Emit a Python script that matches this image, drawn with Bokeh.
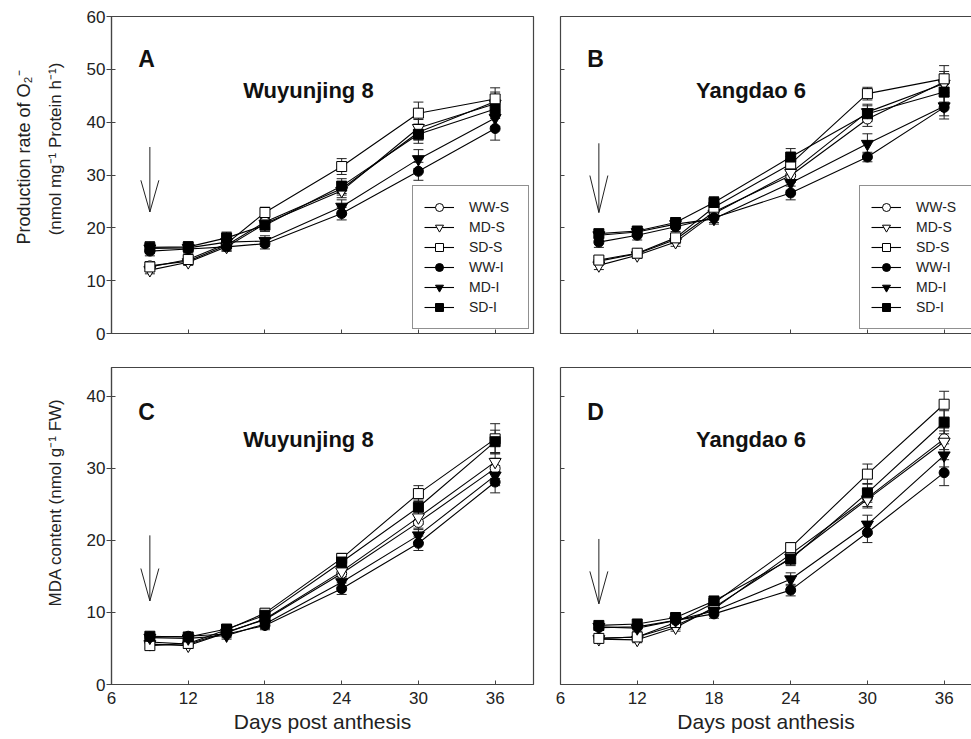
from bokeh.plotting import figure
from bokeh.models import (ColumnDataSource, Range1d, FixedTicker, Whisker, TeeHead,
                          Legend, LegendItem, Label, LinearAxis)
from bokeh.layouts import column, row
from bokeh.embed import file_html
from bokeh.resources import INLINE

FONT = "Liberation Sans"

days = [9, 12, 15, 18, 24, 30, 36]
series_names = ["WW-S", "MD-S", "SD-S", "WW-I", "MD-I", "SD-I"]
x_ticks = [6, 12, 18, 24, 30, 36]
o2_ticks = [0, 10, 20, 30, 40, 50, 60]
mda_ticks = [0, 10, 20, 30, 40]

# Panel A: O2- production, Wuyunjing 8
a_ww_s = [12.8, 13.7, 16.7, 21.1, 27.4, 38.1, 43.9]
a_md_s = [12.0, 13.5, 16.4, 20.8, 27.0, 38.9, 43.5]
a_sd_s = [12.6, 14.0, 17.0, 22.9, 31.6, 41.7, 44.4]
a_ww_i = [15.6, 16.0, 16.4, 17.0, 22.7, 30.7, 38.8]
a_md_i = [16.1, 16.2, 17.3, 17.5, 24.0, 33.0, 40.8]
a_sd_i = [16.3, 16.4, 18.1, 20.5, 27.9, 37.7, 42.5]
a_err_ww_s = [0.8, 0.6, 0.9, 1.0, 1.2, 1.5, 1.8]
a_err_md_s = [0.7, 0.6, 0.8, 1.0, 1.3, 1.6, 1.7]
a_err_sd_s = [0.9, 0.7, 0.9, 1.0, 1.5, 2.1, 2.1]
a_err_ww_i = [0.9, 0.8, 0.8, 1.0, 1.2, 1.7, 2.2]
a_err_md_i = [1.0, 0.9, 1.0, 1.0, 1.3, 1.8, 1.6]
a_err_sd_i = [1.1, 1.0, 1.1, 1.2, 1.4, 1.7, 1.8]

# Panel B: O2- production, Yangdao 6
b_ww_s = [13.7, 15.1, 17.8, 23.0, 29.9, 40.6, 47.6]
b_md_s = [12.9, 14.8, 17.3, 22.7, 30.4, 41.9, 47.3]
b_sd_s = [13.9, 15.2, 18.1, 23.9, 32.1, 45.4, 48.2]
b_ww_i = [17.3, 18.6, 20.2, 21.9, 26.6, 33.4, 42.8]
b_md_i = [18.6, 19.2, 20.7, 21.7, 28.5, 35.9, 43.0]
b_sd_i = [18.9, 19.4, 21.0, 24.8, 33.4, 41.6, 45.7]
b_err_ww_s = [0.7, 0.6, 0.8, 1.0, 1.3, 1.4, 2.0]
b_err_md_s = [0.8, 0.6, 0.8, 1.0, 1.4, 1.5, 1.8]
b_err_sd_s = [0.7, 0.6, 0.8, 1.0, 1.4, 1.2, 2.5]
b_err_ww_i = [1.0, 0.9, 0.9, 0.9, 1.3, 0.9, 2.2]
b_err_md_i = [0.9, 0.8, 0.9, 1.0, 1.4, 1.9, 1.8]
b_err_sd_i = [0.8, 0.8, 0.9, 1.1, 1.6, 1.5, 1.9]

# Panel C: MDA content, Wuyunjing 8
c_ww_s = [5.9, 5.6, 7.3, 9.0, 15.4, 22.5, 30.0]
c_md_s = [5.6, 5.4, 7.2, 9.1, 15.7, 23.2, 30.9]
c_sd_s = [5.4, 5.7, 7.6, 9.9, 17.5, 26.5, 34.1]
c_ww_i = [6.6, 6.7, 7.0, 8.2, 13.3, 19.6, 28.1]
c_md_i = [6.5, 6.4, 6.8, 8.4, 14.2, 20.7, 29.0]
c_sd_i = [6.7, 6.6, 7.7, 9.6, 17.0, 24.6, 33.7]
c_err_ww_s = [0.4, 0.4, 0.5, 0.6, 0.8, 1.0, 1.4]
c_err_md_s = [0.4, 0.4, 0.5, 0.6, 0.8, 1.0, 1.3]
c_err_sd_s = [0.4, 0.4, 0.5, 0.6, 0.7, 1.1, 2.1]
c_err_ww_i = [0.4, 0.4, 0.5, 0.6, 0.8, 1.0, 1.5]
c_err_md_i = [0.4, 0.4, 0.5, 0.6, 0.8, 1.0, 1.4]
c_err_sd_i = [0.4, 0.4, 0.5, 0.6, 0.8, 1.0, 1.6]

# Panel D: MDA content, Yangdao 6
d_ww_s = [6.4, 6.6, 8.2, 10.5, 18.1, 25.9, 34.1]
d_md_s = [6.3, 6.2, 7.9, 10.7, 17.6, 25.7, 33.7]
d_sd_s = [6.4, 6.6, 8.6, 11.3, 19.0, 29.2, 38.9]
d_ww_i = [7.9, 8.0, 8.9, 9.8, 13.1, 21.1, 29.4]
d_md_i = [8.0, 7.8, 8.9, 10.2, 14.6, 22.2, 31.8]
d_sd_i = [8.2, 8.4, 9.3, 11.6, 17.4, 26.6, 36.4]
d_err_ww_s = [0.4, 0.4, 0.5, 0.6, 0.8, 1.2, 1.5]
d_err_md_s = [0.4, 0.4, 0.5, 0.6, 0.8, 1.2, 1.5]
d_err_sd_s = [0.4, 0.4, 0.5, 0.6, 0.7, 1.4, 1.8]
d_err_ww_i = [0.4, 0.4, 0.5, 0.6, 0.8, 1.4, 1.8]
d_err_md_i = [0.4, 0.4, 0.5, 0.6, 0.9, 1.3, 1.6]
d_err_sd_i = [0.4, 0.4, 0.5, 0.6, 0.9, 1.3, 1.6]

# arrows marking the stress start (day, top, wing, tip)
a_arrow = (9, 35.3, 29.0, 23.0)
b_arrow = (9, 36.0, 29.9, 22.9)
c_arrow = (9, 20.7, 16.1, 11.6)
d_arrow = (9, 20.2, 15.7, 11.2)

o2_label_1 = "Production rate of O\u2082\u207b"
o2_label_2 = "(nmol mg\u207b\u00b9 Protein h\u207b\u00b9)"
mda_label = "MDA content (nmol g\u207b\u00b9 FW)"

markers = ["circle", "inverted_triangle", "square", "circle", "inverted_triangle", "square"]
fills = ["white", "white", "white", "black", "black", "black"]
msizes = [10, 12, 10, 10, 12, 10]

X_PX_PER_DAY = 422 / 33.0
FRAME_C = "#444444"
NBSP = "\u00a0"


def style_label(axis, text, size, standoff, lift=0):
    # leading no-break spaces lift the visible text along the axis
    axis.axis_label = NBSP * lift + text
    axis.axis_label_text_font = FONT
    axis.axis_label_text_font_size = size
    axis.axis_label_text_font_style = "normal"
    axis.axis_label_text_color = "#222222"
    axis.axis_label_standoff = standoff


def make_panel(vals, errs, y_end, yticks, letter, letter_y, title, title_x, title_y,
               arrow, left, top, legend_loc=None):
    fw = 422 if left else 411
    x_end = 6 + fw / X_PX_PER_DAY
    p = figure(frame_width=fw, frame_height=317,
               x_range=Range1d(6, x_end), y_range=Range1d(0, y_end),
               output_backend="svg", toolbar_location=None,
               min_border_left=111 if left else 6,
               min_border_right=21 if left else 0,
               min_border_top=16 if top else 6,
               min_border_bottom=28 if top else 55,
               background_fill_color="white", border_fill_color="white")
    p.grid.visible = False

    xa = p.below[0]
    ya = p.left[0]

    xa.ticker = FixedTicker(ticks=x_ticks)
    xa.major_tick_in = 4
    xa.major_tick_out = 0
    xa.minor_tick_line_color = None
    xa.axis_line_color = FRAME_C
    xa.axis_line_width = 1.2
    xa.major_tick_line_color = FRAME_C
    xa.major_label_text_font = FONT
    xa.major_label_text_font_size = "17px"
    xa.major_label_text_color = "#222222"
    if top:
        xa.major_label_overrides = {t: "" for t in x_ticks}
        xa.major_label_standoff = 0
    else:
        xa.major_label_standoff = 7
        style_label(xa, "Days post anthesis", "21px", 3)

    ya.ticker = FixedTicker(ticks=yticks)
    ya.minor_tick_line_color = None
    ya.axis_line_color = FRAME_C
    ya.axis_line_width = 1.2
    ya.major_tick_line_color = FRAME_C
    ya.major_tick_in = 4
    ya.major_label_text_font = FONT
    ya.major_label_text_font_size = "17px"
    ya.major_label_text_color = "#222222"
    if left:
        ya.major_tick_out = 5
        ya.major_label_standoff = 1
    else:
        ya.major_tick_out = 0
        ya.major_label_overrides = {t: "" for t in yticks}
        ya.major_label_standoff = 0

    if left:
        p.outline_line_color = FRAME_C
        p.outline_line_width = 1.2
    else:
        p.outline_line_color = None
        ax = LinearAxis(ticker=FixedTicker(ticks=[]),
                        major_tick_out=0, major_tick_in=0, major_label_standoff=0,
                        axis_line_color=FRAME_C, axis_line_width=1.2)
        p.add_layout(ax, "above")

    # stress arrow
    ad, atop, awing, atip = arrow
    dx = 9 / X_PX_PER_DAY
    p.segment(x0=[ad, ad - dx, ad + dx], y0=[atop, awing, awing],
              x1=[ad, ad, ad], y1=[atip, atip, atip], line_color="#222222", line_width=1)

    items = []
    for i, name in enumerate(series_names):
        v = vals[i]
        e = errs[i]
        src = ColumnDataSource(dict(x=days, y=v,
                                    upper=[a + b for a, b in zip(v, e)],
                                    lower=[a - b for a, b in zip(v, e)]))
        ln = p.line("x", "y", source=src, line_color="black", line_width=1.1)
        wk = Whisker(source=src, base="x", upper="upper", lower="lower",
                     line_color="#222222", line_width=1,
                     upper_head=TeeHead(size=10, line_color="#222222", line_width=1),
                     lower_head=TeeHead(size=10, line_color="#222222", line_width=1))
        p.add_layout(wk)
        sc = p.scatter("x", "y", source=src, marker=markers[i], size=msizes[i],
                       fill_color=fills[i], line_color="black", line_width=1)
        items.append(LegendItem(label=name, renderers=[ln, sc]))

    if top:
        lg = Legend(items=items, location=legend_loc, margin=4,
                    border_line_color="#222222", border_line_width=1,
                    background_fill_color="white", background_fill_alpha=1,
                    label_text_font=FONT, label_text_font_size="14px",
                    label_text_color="#222222",
                    glyph_width=30, glyph_height=20, label_height=20, label_width=48,
                    label_standoff=15, spacing=0, padding=11)
        p.add_layout(lg)

    p.add_layout(Label(x=8.1, y=letter_y, text=letter, text_font=FONT,
                       text_font_style="bold", text_font_size="23px",
                       text_color="#111111", text_baseline="alphabetic"))
    p.add_layout(Label(x=title_x, y=title_y, text=title, text_font=FONT,
                       text_font_style="bold", text_font_size="22px",
                       text_color="#111111", text_align="center",
                       text_baseline="alphabetic"))
    return p


pa = make_panel([a_ww_s, a_md_s, a_sd_s, a_ww_i, a_md_i, a_sd_i],
                [a_err_ww_s, a_err_md_s, a_err_sd_s, a_err_ww_i, a_err_md_i, a_err_sd_i],
                60, o2_ticks, "A", 52.0, "Wuyunjing 8", 21.4, 46.0, a_arrow, True, True,
                legend_loc="bottom_right")
# two-line y label of the upper row: inner line on the tick axis, outer line on a bare axis
style_label(pa.left[0], o2_label_2, "17px", 19, lift=11)
outer = LinearAxis(ticker=FixedTicker(ticks=[]), major_tick_out=0, major_tick_in=0,
                   major_label_standoff=0, axis_line_color=None)
style_label(outer, o2_label_1, "18px", 9, lift=7)
pa.add_layout(outer, "left")

pb = make_panel([b_ww_s, b_md_s, b_sd_s, b_ww_i, b_md_i, b_sd_i],
                [b_err_ww_s, b_err_md_s, b_err_sd_s, b_err_ww_i, b_err_md_i, b_err_sd_i],
                60, o2_ticks, "B", 52.0, "Yangdao 6", 20.9, 46.0, b_arrow, False, True,
                legend_loc=(299, 4))
pc = make_panel([c_ww_s, c_md_s, c_sd_s, c_ww_i, c_md_i, c_sd_i],
                [c_err_ww_s, c_err_md_s, c_err_sd_s, c_err_ww_i, c_err_md_i, c_err_sd_i],
                44, mda_ticks, "C", 37.8, "Wuyunjing 8", 21.4, 34.0, c_arrow, True, False)
style_label(pc.left[0], mda_label, "17px", 19, lift=10)

pd_ = make_panel([d_ww_s, d_md_s, d_sd_s, d_ww_i, d_md_i, d_sd_i],
                 [d_err_ww_s, d_err_md_s, d_err_sd_s, d_err_ww_i, d_err_md_i, d_err_sd_i],
                 44, mda_ticks, "D", 37.8, "Yangdao 6", 20.9, 34.0, d_arrow, False, False)

layout = column(row(pa, pb), row(pc, pd_))
open("out.html", "w").write(file_html(layout, INLINE))
